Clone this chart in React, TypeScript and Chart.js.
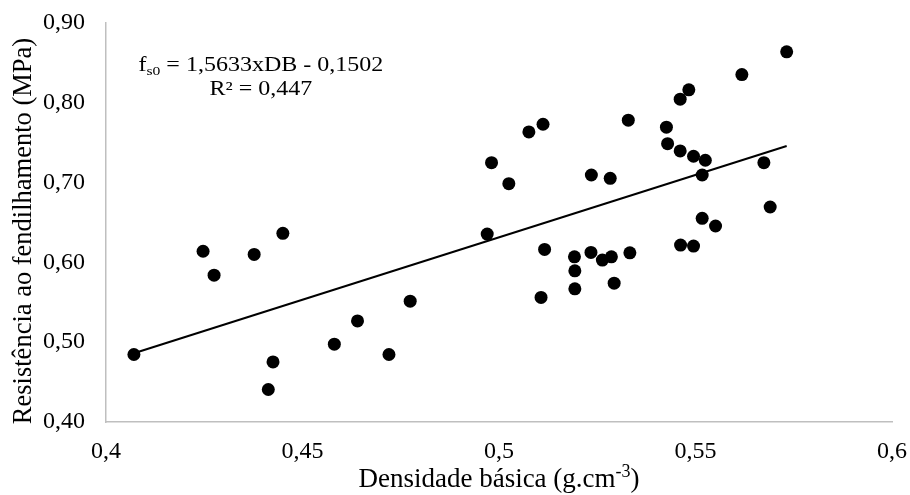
import React, { useEffect, useRef } from "react";
import { Chart, registerables } from "chart.js";

Chart.register(...registerables);

// Density (g/cm3) and splitting resistance (MPa)
const densidade: number[] = [
  0.4071, 0.4247, 0.4275, 0.4377, 0.4425, 0.4413, 0.4581, 0.464, 0.472, 0.4774,
  0.445, 0.4981, 0.5025, 0.497, 0.5076, 0.5112, 0.5235, 0.5283, 0.5329, 0.5426,
  0.5429, 0.5461, 0.5483, 0.5461, 0.5495, 0.5525, 0.5517, 0.5618, 0.5732, 0.5674,
  0.569, 0.5517, 0.5551, 0.5462, 0.5495, 0.5116, 0.5192, 0.5234, 0.5263, 0.5286,
  0.5333, 0.5193, 0.5193, 0.5293, 0.5107,
];
const resistencia: number[] = [
  0.4846, 0.614, 0.584, 0.61, 0.4753, 0.4407, 0.4975, 0.5267, 0.4846, 0.5514,
  0.6364, 0.725, 0.6986, 0.6355, 0.7635, 0.7731, 0.7095, 0.7054, 0.7782, 0.7694,
  0.7488, 0.8045, 0.8162, 0.7397, 0.733, 0.728, 0.7095, 0.8354, 0.8639, 0.725,
  0.6694, 0.6552, 0.6456, 0.6217, 0.6205, 0.6163, 0.607, 0.6125, 0.6029, 0.607,
  0.612, 0.5895, 0.5669, 0.574, 0.5561,
];

const TREND_SLOPE = 1.5633;
const TREND_INTERCEPT = -0.1502;

const xTickValues = [0.4, 0.45, 0.5, 0.55, 0.6];
const yTickValues = [0.4, 0.5, 0.6, 0.7, 0.8, 0.9];

const FONT = "'Liberation Serif', 'Times New Roman', serif";
const TEXT_COLOR = "#000000";
const AXIS_COLOR = "#bfbfbf";

type Seg = { t: string; s?: "sub" | "sup" };

function drawRich(
  ctx: CanvasRenderingContext2D,
  segs: Seg[],
  cx: number,
  cy: number,
  size: number,
  scaleX = 1
) {
  const small = Math.round(size * 0.65);
  const widths = segs.map((sg) => {
    ctx.font = `${sg.s ? small : size}px ${FONT}`;
    return ctx.measureText(sg.t).width;
  });
  const total = widths.reduce((a, b) => a + b, 0);
  ctx.save();
  ctx.translate(cx, cy);
  ctx.scale(scaleX, 1);
  let x = -total / 2;
  ctx.textBaseline = "alphabetic";
  ctx.textAlign = "left";
  const base = size * 0.33;
  segs.forEach((sg, i) => {
    ctx.font = `${sg.s ? small : size}px ${FONT}`;
    let y = base;
    if (sg.s === "sub") y = base + size * 0.22;
    if (sg.s === "sup") y = base - size * 0.38;
    ctx.fillText(sg.t, x, y);
    x += widths[i];
  });
  ctx.restore();
}

const textPlugin = {
  id: "richText",
  afterDraw(chart: any) {
    const { ctx, chartArea } = chart;
    ctx.save();
    ctx.fillStyle = TEXT_COLOR;
    const midX = (chartArea.left + chartArea.right) / 2;
    // x title
    drawRich(
      ctx,
      [{ t: "Densidade básica (g.cm" }, { t: "-3", s: "sup" }, { t: ")" }],
      midX,
      478,
      27
    );
    // y title
    ctx.save();
    ctx.translate(22, 231);
    ctx.rotate(-Math.PI / 2);
    drawRich(ctx, [{ t: "Resistência ao fendilhamento (MPa)" }], 0, 0, 26.5);
    ctx.restore();
    // equation
    const ex = chart.scales.x.getPixelForValue(0.4394);
    const ey = chart.scales.y.getPixelForValue(0.8483);
    drawRich(
      ctx,
      [{ t: "f" }, { t: "s0", s: "sub" }, { t: " = 1,5633xDB - 0,1502" }],
      ex,
      ey,
      20,
      1.2
    );
    drawRich(ctx, [{ t: "R² = 0,447" }], ex, ey + 24, 20, 1.2);
    ctx.restore();
  },
};

function clearPadding(s: any) {
  s.paddingTop = 0;
  s.paddingBottom = 0;
  s.paddingLeft = 0;
  s.paddingRight = 0;
}

export default function App() {
  const ref = useRef<HTMLCanvasElement | null>(null);
  useEffect(() => {
    if (!ref.current) return;
    const pts = densidade.map((x, i) => ({ x, y: resistencia[i] }));
    const xMin = Math.min(...densidade);
    const xMax = Math.max(...densidade);
    const trend = [xMin, xMax].map((x) => ({ x, y: TREND_SLOPE * x + TREND_INTERCEPT }));
    const chart = new Chart(ref.current, {
      type: "scatter",
      data: {
        datasets: [
          {
            data: trend,
            showLine: true,
            borderColor: "#000",
            borderWidth: 2,
            pointRadius: 0,
            order: 2,
          },
          {
            data: pts,
            backgroundColor: "#000",
            borderColor: "#000",
            pointRadius: 6.5,
            borderWidth: 0,
            order: 1,
          },
        ],
      },
      options: {
        responsive: false,
        animation: false,
        layout: { padding: { top: 23, right: 18, left: 0, bottom: 0 } },
        plugins: { legend: { display: false }, tooltip: { enabled: false } },
        scales: {
          x: {
            type: "linear",
            min: 0.4,
            max: 0.6,
            afterBuildTicks: (s: any) => {
              s.ticks = xTickValues.map((v) => ({ value: v }));
            },
            afterFit: (s: any) => {
              s.height = 73;
              clearPadding(s);
            },
            grid: { display: false, drawTicks: false },
            border: { display: true, color: AXIS_COLOR, width: 1.5 },
            ticks: {
              padding: 15,
              color: TEXT_COLOR,
              font: { family: FONT, size: 24 },
              callback: (v: any) => String(Number(Number(v).toFixed(2))).replace(".", ","),
            },
          },
          y: {
            type: "linear",
            min: 0.4,
            max: 0.9,
            afterBuildTicks: (s: any) => {
              s.ticks = yTickValues.map((v) => ({ value: v }));
            },
            afterFit: (s: any) => {
              s.width = 106;
              clearPadding(s);
            },
            grid: { display: false, drawTicks: false },
            border: { display: true, color: AXIS_COLOR, width: 1.5 },
            ticks: {
              padding: 21,
              color: TEXT_COLOR,
              font: { family: FONT, size: 24 },
              callback: (v: any) => Number(v).toFixed(2).replace(".", ","),
            },
          },
        },
      },
      plugins: [textPlugin],
    } as any);
    return () => chart.destroy();
  }, []);
  return (
    <div style={{ position: "absolute", left: 0, top: 0, width: 910, height: 495, background: "#fff" }}>
      <canvas ref={ref} width={910} height={495} />
    </div>
  );
}
